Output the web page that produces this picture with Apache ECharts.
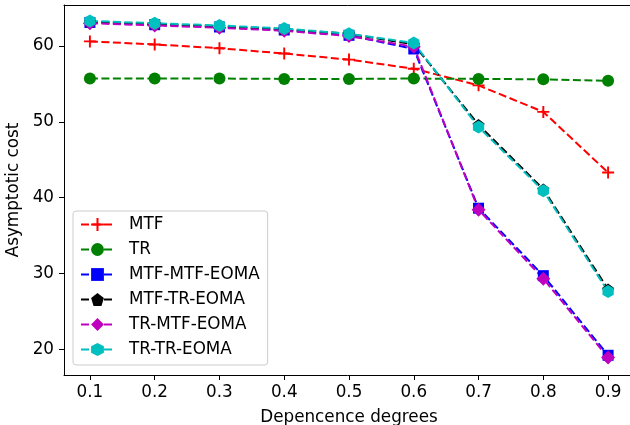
<!DOCTYPE html>
<html>
<head>
<meta charset="utf-8">
<script src="https://cdn.jsdelivr.net/npm/echarts@6/dist/echarts.min.js"></script>
<style>
    * { margin: 0; padding: 0; }
    html, body { background: #fff; }
</style>
</head>
<body>
<div id="myEchArt" style="width:630px;height:425px;"></div>
<script>
    // 横轴：依赖程度
    const degrees = [0.1, 0.2, 0.3, 0.4, 0.5, 0.6, 0.7, 0.8, 0.9];
    const yTicks = [20, 30, 40, 50, 60];

    // 各算法的渐近代价
    const mtf = [60.6, 60.2, 59.7, 59.0, 58.2, 57.0, 54.8, 51.3, 43.3];
    const tr = [55.7, 55.7, 55.7, 55.65, 55.65, 55.7, 55.65, 55.6, 55.4];
    const mtfMtfEoma = [63.1, 62.8, 62.5, 62.1, 61.4, 59.6, 38.6, 29.7, 19.2];
    const mtfTrEoma = [63.2, 62.9, 62.6, 62.2, 61.6, 60.2, 49.6, 41.1, 27.9];
    const trMtfEoma = [63.0, 62.7, 62.4, 62.0, 61.3, 59.9, 38.4, 29.3, 18.9];
    const trTrEoma = [63.3, 63.0, 62.7, 62.3, 61.6, 60.4, 49.3, 40.9, 27.6];

    const plusPath = 'path://M0.42,0 H0.58 V0.42 H1 V0.58 H0.58 V1 H0.42 V0.58 H0 V0.42 H0.42 Z';
    const pentagonPath = 'path://M0,-1 L0.951,-0.309 L0.588,0.809 L-0.588,0.809 L-0.951,-0.309 Z';
    const hexagonPath = 'path://M0,-1 L0.866,-0.5 L0.866,0.5 L0,1 L-0.866,0.5 L-0.866,-0.5 Z';

    function makeSeries(name, values, color, symbol, size) {
        return {
            name: name,
            type: 'line',
            xAxisIndex: 0,
            data: degrees.map((d, i) => [d, values[i]]),
            symbol: symbol,
            symbolSize: size,
            symbolKeepAspect: true,
            showAllSymbol: true,
            animation: false,
            itemStyle: { color: color, opacity: 1 },
            lineStyle: { color: color, width: 2, type: [8, 3.5] }
        };
    }

    const font = 'DejaVu Sans';
    const fontSize = 16.8;
    let myChart = echarts.init(document.getElementById('myEchArt'));
    let option = {
        backgroundColor: '#fff',
        animation: false,
        textStyle: { fontFamily: font },
        // 右边框在原图中被裁掉，所以不画grid边框
        grid: {
            left: 64, top: 5, width: 570, bottom: 50,
            containLabel: false, outerBoundsMode: 'none'
        },
        legend: {
            left: 73, top: 211,
            orient: 'vertical',
            itemWidth: 33, itemHeight: 16, itemGap: 8,
            padding: [5, 8, 7, 7],
            backgroundColor: 'rgba(255,255,255,0.8)',
            borderColor: '#ccc', borderWidth: 1, borderRadius: 3,
            textStyle: { fontFamily: font, fontSize: fontSize, color: '#000', padding: [0, 0, 0, 10] }
        },
        xAxis: [
            {
                type: 'value',
                min: 0.06, max: 0.94,
                name: 'Depencence degrees',
                nameLocation: 'middle',
                nameGap: 34,
                nameTextStyle: { fontFamily: font, fontSize: fontSize, color: '#000' },
                axisLine: { show: true, lineStyle: { color: '#000', width: 1 } },
                axisTick: { show: true, length: 5, customValues: degrees, lineStyle: { color: '#000' } },
                axisLabel: {
                    customValues: degrees, margin: 9,
                    fontFamily: font, fontSize: fontSize, color: '#000',
                    formatter: v => v.toFixed(1)
                },
                splitLine: { show: false }
            },
            {
                // 上边框
                type: 'value',
                position: 'top',
                min: 0.06, max: 0.94,
                axisLine: { show: true, onZero: false, lineStyle: { color: '#000', width: 1 } },
                axisTick: { show: false },
                axisLabel: { show: false },
                splitLine: { show: false }
            }
        ],
        yAxis: {
            type: 'value',
            min: 16.6, max: 65.4,
            name: 'Asymptotic cost',
            nameLocation: 'middle',
            nameGap: 37,
            nameTextStyle: { fontFamily: font, fontSize: fontSize, color: '#000' },
            axisLine: { show: true, onZero: false, lineStyle: { color: '#000', width: 1 } },
            axisTick: { show: true, length: 5, customValues: yTicks, lineStyle: { color: '#000' } },
            axisLabel: { customValues: yTicks, margin: 10, fontFamily: font, fontSize: fontSize, color: '#000' },
            splitLine: { show: false }
        },
        series: [
            makeSeries('MTF', mtf, '#ff0000', plusPath, 12),
            makeSeries('TR', tr, '#008000', 'circle', 12),
            makeSeries('MTF-MTF-EOMA', mtfMtfEoma, '#0000ff', 'rect', 11),
            makeSeries('MTF-TR-EOMA', mtfTrEoma, '#000000', pentagonPath, 12),
            makeSeries('TR-MTF-EOMA', trMtfEoma, '#bf00bf', 'diamond', 14),
            makeSeries('TR-TR-EOMA', trTrEoma, '#00bfbf', hexagonPath, 13)
        ]
    };
    myChart.setOption(option);
</script>
</body>
</html>
